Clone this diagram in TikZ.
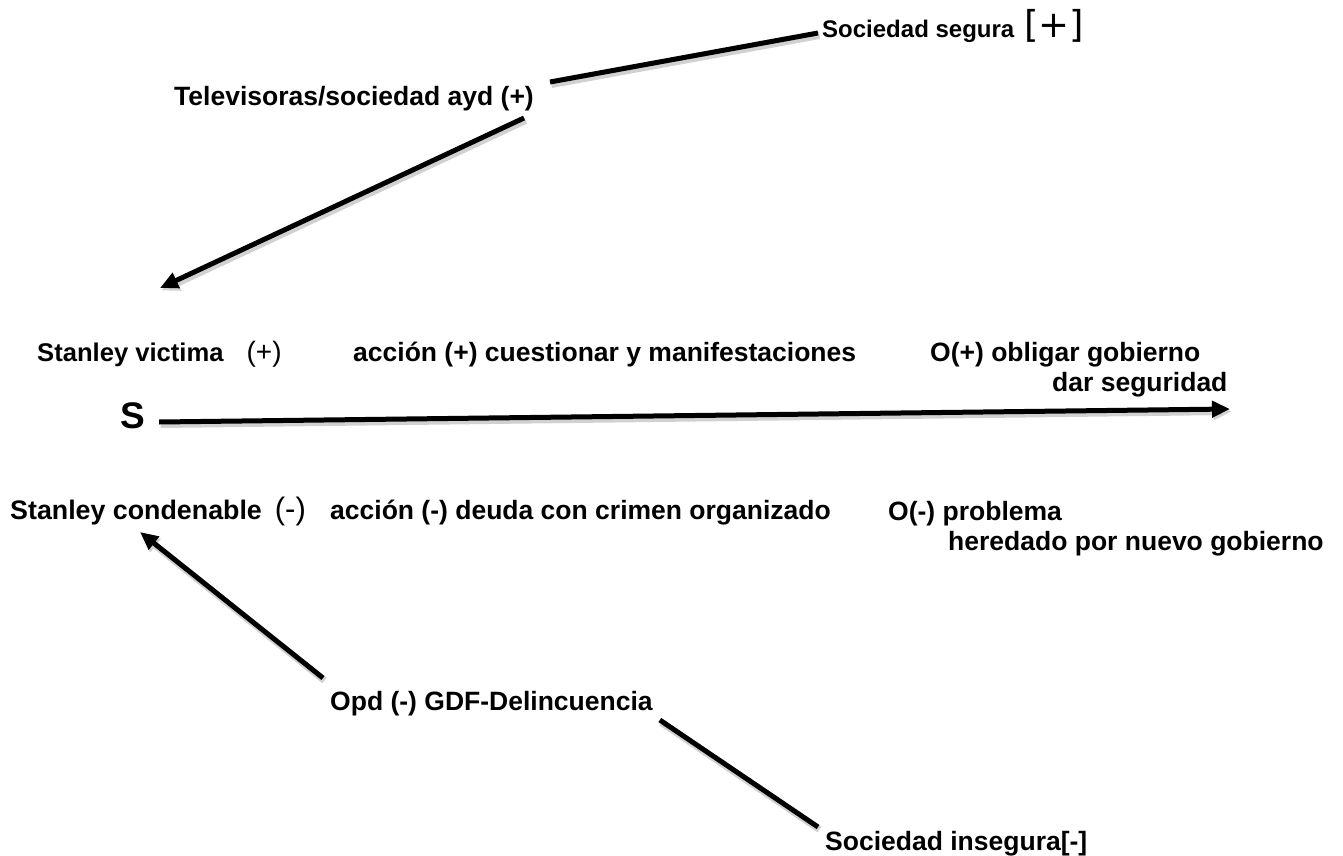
\documentclass[tikz,border=0pt]{standalone}
\usepackage{fontspec}
\setmainfont{Liberation Sans}
\newfontfamily\dvsans{DejaVu Sans}
\usetikzlibrary{arrows.meta,calc}
\begin{document}
\begin{tikzpicture}[x=1pt,y=-1pt,
  lbl/.style={anchor=base west,inner sep=0pt,font=\bfseries\fontsize{26.5}{30}\selectfont,align=left},
  conn/.style={line width=5pt,black,preaction={draw=black!18,line width=7pt,transform canvas={shift={(1.5pt,-2.5pt)}}}},
  arr/.style={conn,-{Triangle[length=18pt,width=16pt]}}]
\useasboundingbox (0,0) rectangle (1343,856);
\node[lbl,font=\bfseries\fontsize{24}{28}\selectfont] (segura) at (822,38) {Sociedad segura\hspace{10pt}{\dvsans\mdseries\fontsize{37}{40}\selectfont[+]}};
\node[lbl] (tele) at (174,106) {Televisoras/sociedad ayd (+)};
\node[lbl,font=\bfseries\fontsize{25.6}{30}\selectfont] (victima) at (37,361) {Stanley victima\hspace{23pt}{\mdseries\fontsize{28}{30}\selectfont(+)}};
\node[lbl] (accion1) at (353,361) {acción (+) cuestionar y manifestaciones};
\node[lbl] (oplus) at (930,391) {O(+) obligar gobierno\\\hspace*{122pt}dar seguridad};
\node[anchor=base west,inner sep=0pt,font=\bfseries\fontsize{37}{40}\selectfont] (S) at (120,428) {S};
\coordinate (send) at (1230,409);
\node[lbl,font=\bfseries\fontsize{26.8}{30}\selectfont] (condenable) at (10,519) {Stanley condenable\hspace{13pt}{\mdseries\fontsize{31}{32}\selectfont(-)}};
\node[lbl] (accion2) at (330,519) {acción (-) deuda con crimen organizado};
\node[lbl] (ominus) at (888,550) {O(-) problema\\\hspace*{60pt}heredado por nuevo gobierno};
\node[lbl] (opd) at (330,710) {Opd (-) GDF-Delincuencia};
\node[lbl] (insegura) at (825,850) {Sociedad insegura[-]};

\draw[conn] ([shift={(16,-24)}]tele.base east) -- ([shift={(-4,-5)}]segura.base west);
\draw[arr] ([shift={(-10,12)}]tele.base east) -- ([shift={(123,-73)}]victima.base west);
\draw[arr] ([shift={(14,-6)}]S.base east) -- (send);
\draw[arr] ([shift={(-7,-32)}]opd.base west) -- ([shift={(130,13)}]condenable.base west);
\draw[conn] ([shift={(7,10)}]opd.base east) -- ([shift={(-7,-23)}]insegura.base west);
\end{tikzpicture}
\end{document}
